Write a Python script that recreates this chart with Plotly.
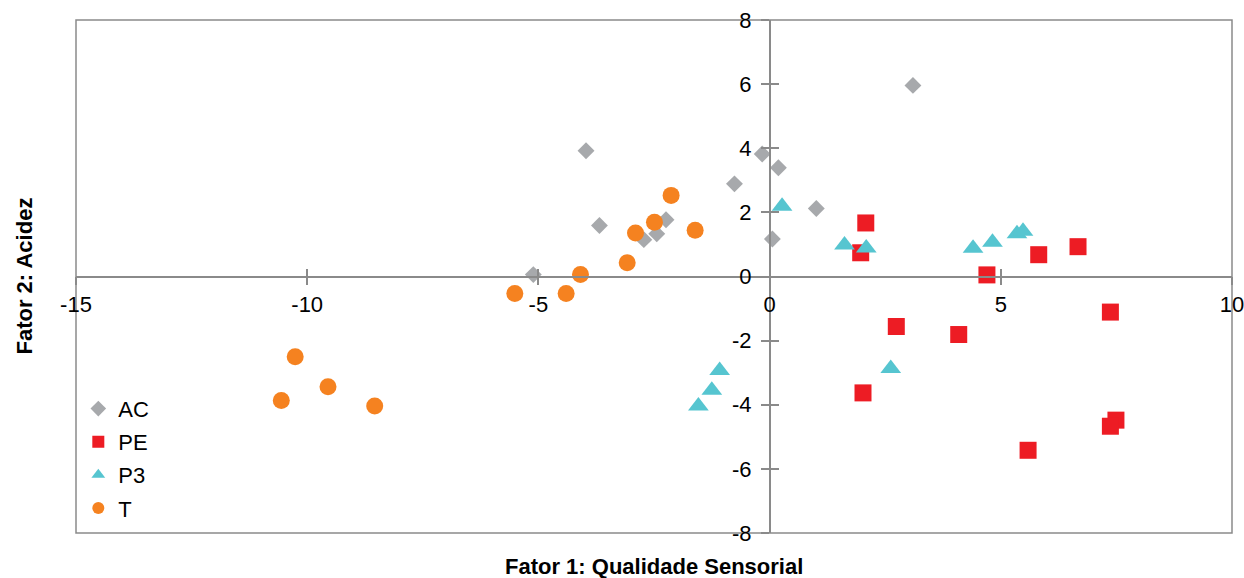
import plotly.graph_objects as go

# ---- data ----
ac_x = [-5.11, -3.97, -3.68, -2.72, -2.44, -2.24, -0.76, -0.16, 0.19, 0.06, 1.01, 3.10]
ac_y = [0.06, 3.92, 1.59, 1.15, 1.33, 1.77, 2.89, 3.82, 3.39, 1.17, 2.12, 5.96]

pe_x = [2.08, 1.97, 4.70, 5.82, 6.67, 7.37, 2.74, 4.09, 2.02, 7.49, 7.37, 5.59]
pe_y = [1.67, 0.74, 0.05, 0.68, 0.93, -1.11, -1.56, -1.81, -3.63, -4.48, -4.67, -5.42]

p3_x = [0.27, 1.62, 2.09, 4.40, 4.82, 5.35, 5.48, -1.08, -1.25, -1.54, 2.62]
p3_y = [2.19, 0.98, 0.89, 0.88, 1.07, 1.33, 1.41, -2.93, -3.55, -4.04, -2.87]

t_x = [-2.13, -2.49, -2.90, -1.61, -3.08, -4.09, -4.40, -5.51, -10.26, -9.55, -10.56, -8.54]
t_y = [2.53, 1.69, 1.36, 1.44, 0.43, 0.06, -0.53, -0.53, -2.50, -3.44, -3.87, -4.04]

x_range = [-15, 10]
y_range = [-8, 8]
x_ticks = [-15, -10, -5, 0, 5, 10]
x_tick_labels = ["-15", "-10", "-5", "0", "5", "10"]
y_ticks = [-8, -6, -4, -2, 0, 2, 4, 6, 8]
y_tick_labels = ["-8", "-6", "-4", "-2", "0", "2", "4", "6", "8"]
x_title = "Fator 1: Qualidade Sensorial"
y_title = "Fator 2: Acidez"

series = [
    ("AC", ac_x, ac_y, "diamond", 13, "#A7A9AC"),
    ("PE", pe_x, pe_y, "square", 17, "#ED1C24"),
    ("P3", p3_x, p3_y, "triangle-up", 18, "#56C5D0"),
    ("T", t_x, t_y, "circle", 17, "#F58220"),
]

FONT = "Liberation Sans, Arial, sans-serif"
AXC = "#8a8a8a"

fig = go.Figure()
for name, xs, ys, sym, sz, col in series:
    fig.add_trace(go.Scatter(
        x=xs, y=ys, mode="markers", name=name, legendgroup=name,
        marker=dict(symbol=sym, size=sz, color=col, line=dict(width=0)),
    ))

# helper trace for the overlay axes (tick marks on the other side of the lines)
fig.add_trace(go.Scatter(x=[None], y=[None], xaxis="x2", yaxis="y2",
                         showlegend=False, hoverinfo="skip"))

y_pos = (0 - y_range[0]) / (y_range[1] - y_range[0])
x_pos = (0 - x_range[0]) / (x_range[1] - x_range[0])

common = dict(showgrid=False, zeroline=False, automargin=False, ticklabeloverflow="allow",
              tickfont=dict(family=FONT, size=22, color="black"))

fig.update_layout(
    width=1244, height=578,
    margin=dict(l=76, r=12, t=20, b=45),
    paper_bgcolor="white", plot_bgcolor="white",
    font=dict(family=FONT, size=22, color="black"),
    xaxis=dict(range=x_range, tickmode="array", tickvals=x_ticks, ticktext=x_tick_labels,
               anchor="free", position=y_pos,
               showline=True, linecolor=AXC, linewidth=1.5,
               ticks="outside", ticklen=8, tickwidth=1.5, tickcolor=AXC,
               ticklabelstandoff=0, **common),
    yaxis=dict(range=y_range, tickmode="array", tickvals=y_ticks, ticktext=y_tick_labels,
               anchor="free", position=x_pos,
               showline=True, linecolor=AXC, linewidth=1.5,
               ticks="outside", ticklen=8, tickwidth=1.5, tickcolor=AXC,
               ticklabelstandoff=5, **common),
    xaxis2=dict(range=x_range, tickmode="array", tickvals=x_ticks, overlaying="x", anchor="free",
                position=y_pos, showline=False, showticklabels=False,
                ticks="inside", ticklen=8, tickwidth=1.5, tickcolor=AXC,
                showgrid=False, zeroline=False, automargin=False),
    yaxis2=dict(range=y_range, tickmode="array", tickvals=y_ticks, overlaying="y", anchor="free",
                position=x_pos, showline=False, showticklabels=False,
                ticks="inside", ticklen=8, tickwidth=1.5, tickcolor=AXC,
                showgrid=False, zeroline=False, automargin=False),
    legend=dict(x=0.002, y=0.283, xanchor="left", yanchor="top",
                bgcolor="rgba(0,0,0,0)", font=dict(family=FONT, size=22, color="black"),
                itemsizing="constant", tracegroupgap=1.5, traceorder="grouped"),
    shapes=[dict(type="rect", xref="paper", yref="paper", x0=0, y0=0, x1=1, y1=1,
                 line=dict(color=AXC, width=1.5), layer="below")],
    annotations=[
        dict(text=x_title, xref="paper", yref="paper", x=0.5, y=0, yshift=-33,
             xanchor="center", yanchor="middle", showarrow=False,
             font=dict(family=FONT, size=22, color="black", weight="bold")),
        dict(text=y_title, xref="paper", yref="paper", x=0, y=0.5, xshift=-52,
             xanchor="center", yanchor="middle", showarrow=False, textangle=-90,
             font=dict(family=FONT, size=22, color="black", weight="bold")),
    ],
)

fig.write_html(
    "out.html",
    config={"displayModeBar": False},
    post_script="document.body.style.margin='0px';document.body.style.overflow='hidden';",
)
